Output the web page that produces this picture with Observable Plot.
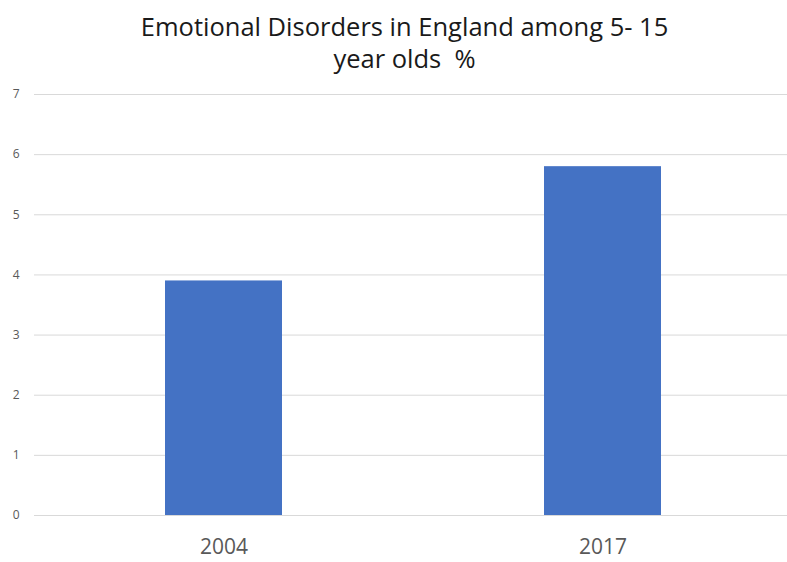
<!DOCTYPE html>
<html>
<head>
<meta charset="utf-8">
<script src="https://cdn.jsdelivr.net/npm/d3@7"></script>
<script src="https://cdn.jsdelivr.net/npm/@observablehq/plot@0.6"></script>
<style>
  body { margin: 0; background: #fff; font-family: "Open Sans", sans-serif; }
  #title { width: 787px; height: 80px; box-sizing: border-box; padding-top: 10px; padding-left: 22px;
           text-align: center; font-size: 25.5px; line-height: 32px; color: #1a1a1a; }
  svg { display: block; }
</style>
</head>
<body>
<div id="title">Emotional Disorders in England among 5- 15<br>year olds&nbsp; %</div>
<div id="chart"></div>
<script>
const years = ["2004", "2017"];
const values = [3.9, 5.8];
const yTicks = [0, 1, 2, 3, 4, 5, 6, 7];

const data = years.map((y, i) => ({year: y, value: values[i]}));

const chart = Plot.plot({
  width: 787,
  height: 482,
  marginTop: 14,
  marginBottom: 47,
  marginLeft: 34,
  marginRight: 0,
  style: {fontFamily: "Open Sans, sans-serif", background: "#fff"},
  x: {domain: years, range: [34, 793], paddingInner: 0.69, paddingOuter: 0.345, label: null},
  y: {domain: [0, 7], label: null},
  marks: [
    Plot.ruleY(yTicks, {stroke: "#d9d9d9", strokeWidth: 1}),
    Plot.barY(data, {x: "year", y: "value", fill: "#4472C4"}),
    Plot.axisY(yTicks, {tickSize: 0, tickPadding: 15, fontSize: 12, color: "#595959", label: null, tickFormat: "d"}),
    Plot.axisX({tickSize: 0, tickPadding: 24, fontSize: 21, color: "#595959", label: null})
  ]
});
document.getElementById("chart").appendChild(chart);
</script>
</body>
</html>
